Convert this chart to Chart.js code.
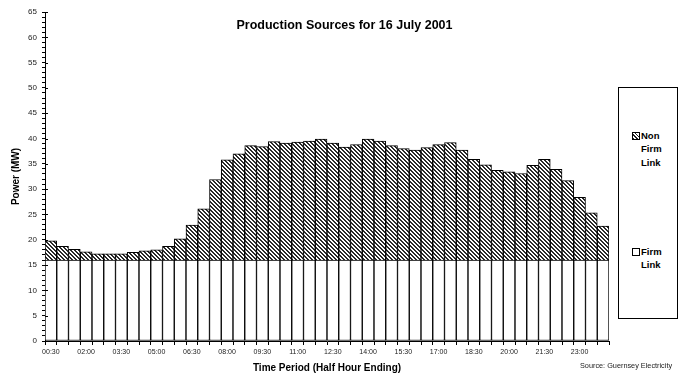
<!DOCTYPE html>
<html>
<head>
<meta charset="utf-8">
<script src="https://cdn.jsdelivr.net/npm/chart.js@4/dist/chart.umd.min.js"></script>
<style>
  body { margin: 0; background: #fff; }
  #wrap { position: relative; width: 684px; height: 374px; font-family: "Liberation Sans", Arial, sans-serif; }
  #title { position: absolute; left: 200px; top: 18px; width: 289px; text-align: center; font-weight: bold; font-size: 12.5px; color: #000; white-space: nowrap; }
  #source { position: absolute; left: 580px; top: 361px; font-size: 7.3px; color: #222; white-space: nowrap; }
  #legend { position: absolute; left: 618px; top: 87px; width: 60px; height: 232px; border: 1px solid #000; box-sizing: border-box; background: #fff; }
  .item { position: absolute; left: 13px; font-weight: bold; font-size: 9.5px; line-height: 13.3px; color: #000; }
  .swatch { position: absolute; left: 0; top: 3px; width: 6px; height: 6px; border: 1px solid #000; background: #fff; }
  .swatch.hatch { background: repeating-linear-gradient(45deg, #222 0 1px, #fff 1px 2.6px); }
  .item span { display: block; margin-left: 9px; }
</style>
</head>
<body>
<div id="wrap">
  <canvas id="prodChart" width="684" height="374"></canvas>
  <div id="title">Production Sources for 16 July 2001</div>
  <div id="legend">
    <div class="item" style="top:41px"><div class="swatch hatch"></div><span>Non</span><span>Firm</span><span>Link</span></div>
    <div class="item" style="top:157px"><div class="swatch"></div><span>Firm</span><span>Link</span></div>
  </div>
  <div id="source">Source: Guernsey Electricity</div>
</div>
<script>
// half hour periods (ending time)
const periods = [
  "00:30", "01:00", "01:30", "02:00", "02:30", "03:00", "03:30", "04:00",
  "04:30", "05:00", "05:30", "06:00", "06:30", "07:00", "07:30", "08:00",
  "08:30", "09:00", "09:30", "10:00", "10:30", "11:00", "11:30", "12:00",
  "12:30", "13:00", "13:30", "14:00", "14:30", "15:00", "15:30", "16:00",
  "16:30", "17:00", "17:30", "18:00", "18:30", "19:00", "19:30", "20:00",
  "20:30", "21:00", "21:30", "22:00", "22:30", "23:00", "23:30", "24:00"
];

// MW from the firm link contract
const firmLink = [
  16, 16, 16, 16, 16, 16, 16, 16, 16, 16, 16, 16,
  16, 16, 16, 16, 16, 16, 16, 16, 16, 16, 16, 16,
  16, 16, 16, 16, 16, 16, 16, 16, 16, 16, 16, 16,
  16, 16, 16, 16, 16, 16, 16, 16, 16, 16, 16, 16
];

// MW on top of firm link
const nonFirmLink = [
  3.8, 2.7, 2.1, 1.6, 1.2, 1.2, 1.2, 1.5, 1.8, 2.0, 2.7, 4.2,
  6.9, 10.1, 15.9, 19.8, 21.0, 22.6, 22.4, 23.4, 23.1, 23.3, 23.5, 23.9,
  23.1, 22.3, 22.8, 23.9, 23.5, 22.6, 22.0, 21.7, 22.2, 22.8, 23.2, 21.7,
  19.9, 18.8, 17.7, 17.4, 17.1, 18.7, 19.9, 17.9, 15.7, 12.4, 9.3, 6.7
];

const yMax = 65;
const yMajor = 5;

// dense diagonal hatch like the old spreadsheet fill
function makeHatch() {
  const c = document.createElement("canvas");
  c.width = 4; c.height = 4;
  const g = c.getContext("2d");
  g.fillStyle = "#fff";
  g.fillRect(0, 0, 4, 4);
  g.fillStyle = "#2a2a2a";
  for (let x = 0; x < 4; x++) {
    for (let y = 0; y < 4; y++) {
      if (((x - y) % 4 + 4) % 4 < 2) g.fillRect(x, y, 1, 1);
    }
  }
  return g.createPattern(c, "repeat");
}

// longer marks for the labelled y ticks
const majorTicks = {
  id: "majorTicks",
  afterDraw(chart) {
    const y = chart.scales.y;
    const ctx = chart.ctx;
    ctx.save();
    ctx.strokeStyle = "#000";
    ctx.lineWidth = 1;
    for (let v = 0; v <= yMax; v += yMajor) {
      const py = Math.round(y.getPixelForValue(v)) + 0.5;
      ctx.beginPath();
      ctx.moveTo(y.right, py);
      ctx.lineTo(y.right + 3, py);
      ctx.stroke();
    }
    ctx.restore();
  }
};

const ctx = document.getElementById("prodChart").getContext("2d");
new Chart(ctx, {
  type: "bar",
  data: {
    labels: periods,
    datasets: [
      {
        label: "Firm Link",
        data: firmLink,
        backgroundColor: "#fff",
        borderColor: "#000",
        borderWidth: 1,
        borderSkipped: false,
        categoryPercentage: 1,
        barPercentage: 1
      },
      {
        label: "Non Firm Link",
        data: nonFirmLink,
        backgroundColor: makeHatch(),
        borderColor: "#000",
        borderWidth: 1,
        borderSkipped: "start",
        categoryPercentage: 1,
        barPercentage: 1
      }
    ]
  },
  options: {
    responsive: false,
    animation: false,
    layout: { padding: { top: 12, right: 75, bottom: 0, left: 0 } },
    plugins: {
      legend: { display: false },
      title: { display: false },
      tooltip: { enabled: false }
    },
    scales: {
      x: {
        stacked: true,
        grid: { drawOnChartArea: false, offset: true, tickLength: 4, color: "#000" },
        border: { color: "#000", width: 1 },
        ticks: {
          autoSkip: false,
          maxRotation: 0,
          padding: 3,
          color: "#222",
          font: { family: "Liberation Sans", size: 7 },
          callback(val, i) { return i % 3 === 0 ? periods[i] : ""; }
        },
        title: {
          display: true,
          text: "Time Period (Half Hour Ending)",
          color: "#000",
          font: { family: "Liberation Sans", size: 10, weight: "bold" },
          padding: { top: 0, bottom: 0 }
        },
        afterFit(scale) { scale.height = 33; }
      },
      y: {
        stacked: true,
        min: 0,
        max: yMax,
        grid: { drawOnChartArea: false, tickLength: 3, color: "#000" },
        border: { color: "#000", width: 1 },
        ticks: {
          stepSize: 1,
          autoSkip: false,
          padding: 5,
          color: "#222",
          font: { family: "Liberation Sans", size: 8 },
          callback(v) { return v % yMajor === 0 ? v : ""; }
        },
        title: {
          display: true,
          text: "Power (MW)",
          color: "#000",
          font: { family: "Liberation Sans", size: 10, weight: "bold" },
          padding: { top: 10, bottom: 0 }
        },
        afterFit(scale) { scale.width = 45; }
      }
    }
  },
  plugins: [majorTicks]
});
</script>
</body>
</html>
